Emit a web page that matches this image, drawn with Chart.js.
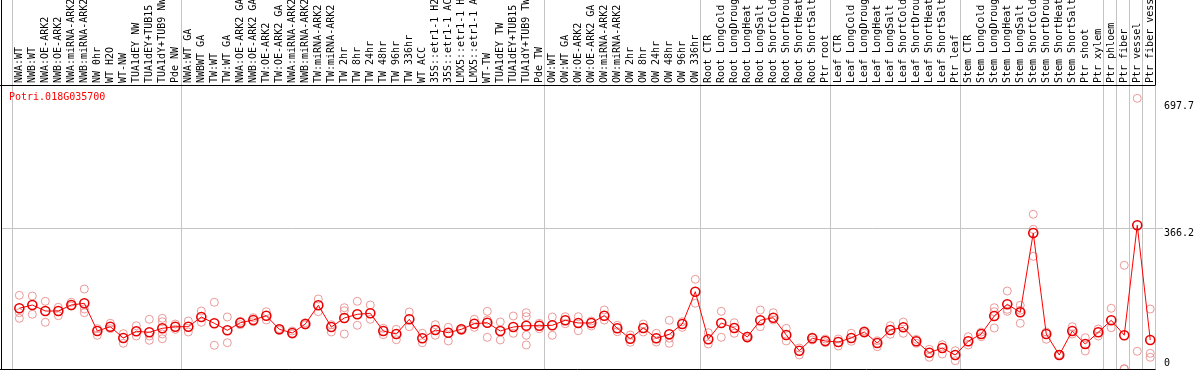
<!DOCTYPE html>
<html>
<head>
<meta charset="utf-8">
<title>Potri.018G035700</title>
<script src="https://cdn.jsdelivr.net/npm/chart.js@4.4.0/dist/chart.umd.min.js"></script>
<style>
    html, body { margin: 0; padding: 0; background: #ffffff; }
    #graph { display: block; }
</style>
</head>
<body>
<canvas id="graph" width="1194" height="370"></canvas>
<script>
// Sample names (one per column)
var categories = [
    'NWA:WT', 'NWB:WT', 'NWA:OE-ARK2', 'NWB:OE-ARK2', 'NWA:miRNA-ARK2', 'NWB:miRNA-ARK2',
    'NW 0hr', 'WT H2O', 'WT-NW', 'TUA1dEY NW', 'TUA1dEY+TUB15 NW', 'TUA1dY+TUB9 NW', 'Pde NW',
    'NWA:WT GA', 'NWBWT GA', 'TW:WT', 'TW:WT GA', 'NWA:OE-ARK2 GA', 'NWB:OE-ARK2 GA',
    'TW:OE-ARK2', 'TW:OE-ARK2 GA', 'NWA:miRNA-ARK2 GA', 'NWB:miRNA-ARK2 GA', 'TW:miRNA-ARK2',
    'TW:miRNA-ARK2 GA', 'TW 2hr', 'TW 8hr', 'TW 24hr', 'TW 48hr', 'TW 96hr', 'TW 336hr',
    'WT ACC', '35S::etr1-1 H2O', '35S::etr1-1 ACC', 'LMX5::etr1-1 H2O', 'LMX5::etr1-1 ACC',
    'WT-TW', 'TUA1dEY TW', 'TUA1dEY+TUB15 TW', 'TUA1dY+TUB9 TW', 'Pde TW',
    'OW:WT', 'OW:WT GA', 'OW:OE-ARK2', 'OW:OE-ARK2 GA', 'OW:miRNA-ARK2', 'OW:miRNA-ARK2 GA',
    'OW 2hr', 'OW 8hr', 'OW 24hr', 'OW 48hr', 'OW 96hr', 'OW 336hr',
    'Root CTR', 'Root LongCold', 'Root LongDrought', 'Root LongHeat', 'Root LongSalt',
    'Root ShortCold', 'Root ShortDrought', 'Root ShortHeat', 'Root ShortSalt', 'Ptr root',
    'Leaf CTR', 'Leaf LongCold', 'Leaf LongDrought', 'Leaf LongHeat', 'Leaf LongSalt',
    'Leaf ShortCold', 'Leaf ShortDrought', 'Leaf ShortHeat', 'Leaf ShortSalt', 'Ptr leaf',
    'Stem CTR', 'Stem LongCold', 'Stem LongDrought', 'Stem LongHeat', 'Stem LongSalt',
    'Stem ShortCold', 'Stem ShortDrought', 'Stem ShortHeat', 'Stem ShortSalt', 'Ptr shoot',
    'Ptr xylem', 'Ptr phloem', 'Ptr fiber', 'Ptr vessel', 'Ptr fiber vessel'
];

// Mean expression per sample (red line)
var meanValues = [
    158.2, 166.8, 151.1, 151.1, 166.8, 171.2, 99.0, 110.2, 80.8, 98.2, 95.6, 106.0, 110.2,
    110.2, 135.5, 119.1, 100.8, 120.6, 127.7, 138.9, 103.4, 93.8, 117.2,
    166.0, 109.4, 132.9, 142.5, 145.1, 99.0, 91.2, 129.5, 80.0, 101.6,
    94.6, 103.4, 118.0, 120.6, 99.0, 109.4, 112.8, 112.8,
    113.9, 126.9, 119.9, 119.9, 138.9, 106.0, 78.9, 106.8, 80.0, 90.4, 117.2, 201.4,
    77.4, 119.9, 106.8, 83.4, 126.9, 133.7, 88.6, 47.7, 80.0, 73.0,
    70.3, 80.8, 96.4, 67.7, 101.6, 108.6, 72.2, 42.5, 54.7, 36.5,
    72.2, 91.2, 138.1, 168.6, 147.7, 354.3, 91.2, 36.5, 99.0, 65.1,
    95.6, 126.9, 88.1, 374.7, 75.6
];

// Individual replicates per sample (pink circles)
var replicateValues = [
    [192.0, 146.7, 132.1], [190.2, 142.5], [176.4, 121.7], [160.8, 138.9], [173.8, 164.1],
    [208.4, 156.3, 146.7], [105.0, 87.8], [119.1, 105.0], [92.0, 67.0], [112.8, 86.0],
    [129.5, 86.0, 74.8], [132.1, 123.2, 91.2, 78.9], [117.2, 103.4],
    [125.1, 96.4], [151.1, 121.7], [173.8, 61.8], [135.5, 68.5], [124.3, 115.4],
    [133.7, 123.2], [149.3, 127.7], [105.0, 100.8], [99.0, 90.4], [120.6, 114.6],
    [182.4, 149.3], [115.4, 96.4], [159.7, 151.9, 91.2], [176.4, 113.9], [166.8, 129.5],
    [106.0, 89.4], [103.4, 76.3], [148.5, 110.2], [93.0, 68.5], [115.4, 87.8],
    [108.6, 73.0], [105.0, 100.8], [129.5, 108.6], [150.3, 127.7, 82.6], [122.5, 75.6],
    [138.1, 93.0], [146.7, 136.3, 87.8, 62.5], [119.1, 105.0],
    [135.5, 87.8], [136.3, 118.0], [136.3, 99.8], [125.1, 112.0], [153.7, 127.7],
    [113.9, 97.2], [88.6, 69.6], [117.2, 96.4], [93.0, 70.3], [126.9, 80.0, 67.0],
    [123.2, 108.6], [233.7, 171.2],
    [94.6, 65.1], [150.3, 82.6], [120.6, 93.0], [86.0, 80.0], [153.7, 110.2],
    [146.7, 127.7], [106.0, 73.0], [54.7, 36.5], [83.4, 75.6], [78.2, 68.5],
    [78.2, 59.9], [93.0, 72.2], [99.8, 93.0], [73.7, 58.1], [112.8, 90.4],
    [122.5, 93.0], [77.4, 67.0], [51.3, 30.5], [63.3, 39.1], [47.7, 21.6],
    [84.2, 62.5], [96.4, 84.2], [159.7, 149.3, 106.8], [203.2, 155.5, 150.3],
    [166.0, 153.0, 119.1], [403.1, 364.0, 293.6], [96.4, 77.4], [38.0, 35.0],
    [110.2, 91.2], [81.6, 46.9],
    [104.2, 86.0], [158.2, 107.6], [270.2, 1.0, 0], [705.3, 46.1], [156.3, 40.9, 30.5]
];

// Group separators (between sample columns) and value ticks on the right
var separators = [-0.6, 12.4, 40.4, 52.4, 62.4, 72.4, 83.4, 84.4, 85.4, 86.4, 87.4];
var yTicks = [0, 366.2, 697.7];
var geneName = 'Potri.018G035700';

var monoFont = '10px "DejaVu Sans Mono", monospace';

var meanPoints = meanValues.map(function (v, i) { return { x: i, y: v }; });
var replicatePoints = [];
replicateValues.forEach(function (reps, i) {
    reps.forEach(function (v) { replicatePoints.push({ x: i, y: v }); });
});

// Extra drawing: separators, grid line, borders, value labels, gene name
var decorPlugin = {
    id: 'decor',
    beforeDraw: function (chart) {
        var ctx = chart.ctx;
        var xs = chart.scales.x;
        var ys = chart.scales.y;
        var area = chart.chartArea;
        ctx.save();
        ctx.fillStyle = '#ffffff';
        ctx.fillRect(0, 0, chart.width, chart.height);
        ctx.strokeStyle = '#c4c4c4';
        ctx.lineWidth = 1;
        separators.forEach(function (s) {
            var px = Math.round(xs.getPixelForValue(s)) + 0.5;
            ctx.beginPath();
            ctx.moveTo(px, 0);
            ctx.lineTo(px, chart.height);
            ctx.stroke();
        });
        var py = Math.round(ys.getPixelForValue(yTicks[1])) + 0.5;
        ctx.beginPath();
        ctx.moveTo(area.left, py);
        ctx.lineTo(area.right + 3, py);
        ctx.stroke();
        ctx.restore();
    },
    afterDraw: function (chart) {
        var ctx = chart.ctx;
        var xs = chart.scales.x;
        var ys = chart.scales.y;
        var area = chart.chartArea;
        var edge = Math.round(xs.getPixelForValue(separators[separators.length - 1])) + 0.5;
        ctx.save();
        ctx.strokeStyle = '#000000';
        ctx.lineWidth = 1;
        ctx.beginPath();
        ctx.moveTo(1.5, 0);
        ctx.lineTo(1.5, chart.height);
        ctx.moveTo(0, area.top + 0.5);
        ctx.lineTo(edge, area.top + 0.5);
        ctx.moveTo(edge, 0);
        ctx.lineTo(edge, area.top);
        ctx.moveTo(0, area.bottom + 0.5);
        ctx.lineTo(edge, area.bottom + 0.5);
        ctx.stroke();

        // value labels on the right
        ctx.font = monoFont;
        ctx.fillStyle = '#000000';
        ctx.textAlign = 'left';
        yTicks.forEach(function (t, i) {
            var y = ys.getPixelForValue(t);
            if (i === 0) {
                ctx.textBaseline = 'bottom';
                ctx.fillText(String(t), area.right + 4, y - 1);
            } else {
                ctx.textBaseline = 'top';
                ctx.fillText(String(t), area.right + 4, y);
            }
        });

        // gene name
        ctx.fillStyle = '#ff0000';
        ctx.textBaseline = 'middle';
        ctx.fillText(geneName, 9, area.top + 12);
        ctx.restore();
    }
};

var ctx = document.getElementById('graph').getContext('2d');
var chart = new Chart(ctx, {
    type: 'line',
    data: {
        datasets: [
            {
                label: 'mean',
                data: meanPoints,
                borderColor: '#ff0000',
                borderWidth: 1,
                pointRadius: 4.5,
                pointBorderWidth: 1.6,
                pointBorderColor: '#e80000',
                pointBackgroundColor: 'rgba(0,0,0,0)',
                tension: 0
            },
            {
                label: 'replicates',
                data: replicatePoints,
                showLine: false,
                pointRadius: 4,
                pointBorderWidth: 1,
                pointBorderColor: 'rgba(232,135,135,0.85)',
                pointBackgroundColor: 'rgba(0,0,0,0)'
            }
        ]
    },
    options: {
        responsive: false,
        animation: false,
        layout: { autoPadding: false, padding: { left: 1, right: 34, top: 0, bottom: 1 } },
        scales: {
            x: {
                type: 'linear',
                position: 'top',
                min: -1.41,
                max: 87.75,
                afterBuildTicks: function (axis) {
                    axis.ticks = categories.map(function (c, i) { return { value: i }; });
                },
                afterFit: function (axis) {
                    axis.height = 85;
                },
                grid: { display: false, drawTicks: false },
                border: { display: false },
                ticks: {
                    autoSkip: false,
                    minRotation: 90,
                    maxRotation: 90,
                    padding: 2,
                    labelOffset: 12,
                    color: '#000000',
                    font: { family: '"DejaVu Sans Mono", monospace', size: 10 },
                    callback: function (value, index) {
                        return categories[index];
                    }
                }
            },
            y: {
                display: false,
                min: 0,
                max: 740
            }
        },
        plugins: {
            legend: { display: false },
            tooltip: { enabled: false }
        }
    },
    plugins: [decorPlugin]
});
</script>
</body>
</html>
